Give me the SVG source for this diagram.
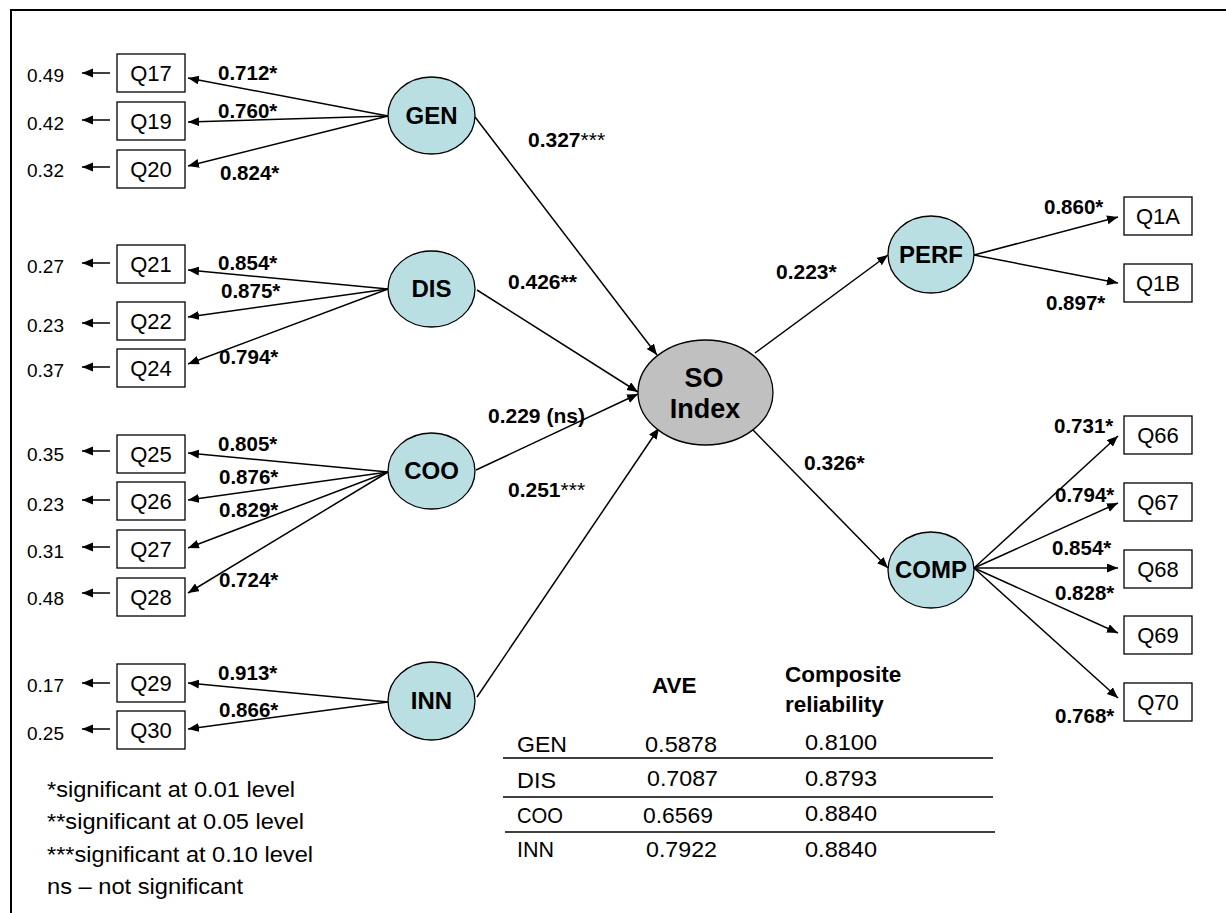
<svg xmlns="http://www.w3.org/2000/svg" width="1226" height="913" viewBox="0 0 1226 913">
<defs>
<marker id="ah" markerUnits="userSpaceOnUse" markerWidth="12" markerHeight="10" refX="11" refY="4.5" orient="auto">
<path d="M0,0 L11,4.5 L0,9 z" fill="#000"/>
</marker>
<style>
text{font-family:"Liberation Sans",Arial,sans-serif;fill:#000}
.lat{fill:#b9dfe2;stroke:#000;stroke-width:1.3}
.so{fill:#c0c0c0;stroke:#000;stroke-width:1.3}
.box{fill:#fff;stroke:#000;stroke-width:1.3}
.nl{font-size:24px;font-weight:bold;text-anchor:middle}
.bt{font-size:22px;text-anchor:middle}
.er{font-size:19px}
.ld{font-size:20.5px;font-weight:bold}
.pc{font-size:21px;font-weight:bold}
.tb{font-size:22px}
.th{font-size:22.5px;font-weight:bold}
.lg{font-size:22px}
.c line{stroke:#000;stroke-width:1.5;marker-end:url(#ah)}
.tl{stroke:#000;stroke-width:1.5}
</style>
</defs>
<rect x="11" y="10" width="1300" height="1000" fill="#fff" stroke="#000" stroke-width="2"/>

<g id="connectors" class="c">
<line x1="110" y1="73" x2="82" y2="73"/>
<line x1="110" y1="120" x2="82" y2="120"/>
<line x1="110" y1="167" x2="82" y2="167"/>
<line x1="110" y1="263" x2="82" y2="263"/>
<line x1="110" y1="323" x2="82" y2="323"/>
<line x1="110" y1="367" x2="82" y2="367"/>
<line x1="110" y1="451" x2="82" y2="451"/>
<line x1="110" y1="500" x2="82" y2="500"/>
<line x1="110" y1="547" x2="82" y2="547"/>
<line x1="110" y1="593" x2="82" y2="593"/>
<line x1="110" y1="683" x2="82" y2="683"/>
<line x1="110" y1="729" x2="82" y2="729"/>
<line x1="388" y1="116" x2="188" y2="78"/>
<line x1="388" y1="116" x2="188" y2="122"/>
<line x1="388" y1="116" x2="188" y2="166"/>
<line x1="388" y1="289" x2="188" y2="270"/>
<line x1="388" y1="289" x2="188" y2="317"/>
<line x1="388" y1="289" x2="188" y2="364"/>
<line x1="388" y1="472" x2="188" y2="453"/>
<line x1="388" y1="472" x2="188" y2="500"/>
<line x1="388" y1="472" x2="188" y2="548"/>
<line x1="388" y1="472" x2="188" y2="593"/>
<line x1="388" y1="702" x2="188" y2="683"/>
<line x1="388" y1="702" x2="188" y2="729"/>
<line x1="475" y1="117" x2="657" y2="355"/>
<line x1="477" y1="290" x2="638" y2="392"/>
<line x1="476" y1="470" x2="638" y2="394"/>
<line x1="477" y1="697" x2="659" y2="428"/>
<line x1="755" y1="353" x2="888" y2="255"/>
<line x1="753" y1="430" x2="888" y2="568"/>
<line x1="974" y1="255" x2="1118" y2="217"/>
<line x1="974" y1="255" x2="1118" y2="283"/>
<line x1="974" y1="568" x2="1118" y2="436"/>
<line x1="974" y1="568" x2="1118" y2="503"/>
<line x1="974" y1="568" x2="1118" y2="568"/>
<line x1="974" y1="568" x2="1118" y2="633"/>
<line x1="974" y1="568" x2="1118" y2="698"/>
</g>

<g id="gen"><ellipse class="lat" cx="431.5" cy="115.5" rx="43.5" ry="38.5"/><text class="nl" x="431.5" y="124">GEN</text></g>
<g id="dis"><ellipse class="lat" cx="431.5" cy="289" rx="43.5" ry="38"/><text class="nl" x="431.5" y="297">DIS</text></g>
<g id="coo"><ellipse class="lat" cx="431.5" cy="471" rx="43.5" ry="38"/><text class="nl" x="431.5" y="479">COO</text></g>
<g id="inn"><ellipse class="lat" cx="431.5" cy="701" rx="43.5" ry="39"/><text class="nl" x="431.5" y="709">INN</text></g>
<g id="so"><ellipse class="so" cx="705.5" cy="392.5" rx="67.5" ry="52.5"/><text class="nl" style="font-size:27px" x="704" y="387">SO</text><text class="nl" style="font-size:27px" x="705" y="418">Index</text></g>
<g id="perf"><ellipse class="lat" cx="931" cy="254.5" rx="43" ry="38.5"/><text class="nl" x="931" y="263">PERF</text></g>
<g id="comp"><ellipse class="lat" cx="931" cy="570" rx="43" ry="38"/><text class="nl" x="931" y="578">COMP</text></g>

<g id="q17"><rect class="box" x="117" y="54" width="68" height="38"/><text class="bt" x="151" y="81">Q17</text></g>
<g id="q19"><rect class="box" x="117" y="102" width="68" height="38"/><text class="bt" x="151" y="129">Q19</text></g>
<g id="q20"><rect class="box" x="117" y="150" width="68" height="38"/><text class="bt" x="151" y="177">Q20</text></g>
<g id="q21"><rect class="box" x="117" y="245" width="68" height="38"/><text class="bt" x="151" y="272">Q21</text></g>
<g id="q22"><rect class="box" x="117" y="302" width="68" height="38"/><text class="bt" x="151" y="329">Q22</text></g>
<g id="q24"><rect class="box" x="117" y="349" width="68" height="38"/><text class="bt" x="151" y="376">Q24</text></g>
<g id="q25"><rect class="box" x="117" y="435" width="68" height="38"/><text class="bt" x="151" y="462">Q25</text></g>
<g id="q26"><rect class="box" x="117" y="482" width="68" height="38"/><text class="bt" x="151" y="509">Q26</text></g>
<g id="q27"><rect class="box" x="117" y="530" width="68" height="38"/><text class="bt" x="151" y="557">Q27</text></g>
<g id="q28"><rect class="box" x="117" y="578" width="68" height="38"/><text class="bt" x="151" y="605">Q28</text></g>
<g id="q29"><rect class="box" x="117" y="664" width="68" height="38"/><text class="bt" x="151" y="691">Q29</text></g>
<g id="q30"><rect class="box" x="117" y="711" width="68" height="38"/><text class="bt" x="151" y="738">Q30</text></g>
<g id="q1a"><rect class="box" x="1124" y="197" width="68" height="38"/><text class="bt" x="1158" y="224">Q1A</text></g>
<g id="q1b"><rect class="box" x="1124" y="264" width="68" height="38"/><text class="bt" x="1158" y="291">Q1B</text></g>
<g id="q66"><rect class="box" x="1124" y="416" width="68" height="38"/><text class="bt" x="1158" y="443">Q66</text></g>
<g id="q67"><rect class="box" x="1124" y="483" width="68" height="38"/><text class="bt" x="1158" y="510">Q67</text></g>
<g id="q68"><rect class="box" x="1124" y="550" width="68" height="38"/><text class="bt" x="1158" y="577">Q68</text></g>
<g id="q69"><rect class="box" x="1124" y="616" width="68" height="38"/><text class="bt" x="1158" y="643">Q69</text></g>
<g id="q70"><rect class="box" x="1124" y="683" width="68" height="38"/><text class="bt" x="1158" y="710">Q70</text></g>

<g id="errors">
<text class="er" x="27" y="82">0.49</text>
<text class="er" x="27" y="130">0.42</text>
<text class="er" x="27" y="177">0.32</text>
<text class="er" x="27" y="273">0.27</text>
<text class="er" x="27" y="332">0.23</text>
<text class="er" x="27" y="377">0.37</text>
<text class="er" x="27" y="461">0.35</text>
<text class="er" x="27" y="511">0.23</text>
<text class="er" x="27" y="558">0.31</text>
<text class="er" x="27" y="605">0.48</text>
<text class="er" x="27" y="692">0.17</text>
<text class="er" x="27" y="740">0.25</text>
</g>

<g id="loadings">
<text class="ld" x="218" y="80">0.712*</text>
<text class="ld" x="218" y="118">0.760*</text>
<text class="ld" x="220" y="180">0.824*</text>
<text class="ld" x="218" y="270">0.854*</text>
<text class="ld" x="221" y="298">0.875*</text>
<text class="ld" x="219" y="364">0.794*</text>
<text class="ld" x="218" y="451">0.805*</text>
<text class="ld" x="219" y="484">0.876*</text>
<text class="ld" x="219" y="517">0.829*</text>
<text class="ld" x="219" y="587">0.724*</text>
<text class="ld" x="218" y="680">0.913*</text>
<text class="ld" x="219" y="717">0.866*</text>
<text class="ld" x="1044" y="214">0.860*</text>
<text class="ld" x="1046" y="310">0.897*</text>
<text class="ld" x="1054" y="433">0.731*</text>
<text class="ld" x="1055" y="502">0.794*</text>
<text class="ld" x="1052" y="555">0.854*</text>
<text class="ld" x="1055" y="600">0.828*</text>
<text class="ld" x="1055" y="723">0.768*</text>
</g>

<g id="paths">
<text class="pc" x="528" y="147">0.327<tspan font-weight="normal">***</tspan></text>
<text class="pc" x="508" y="289">0.426**</text>
<text class="pc" x="488" y="423">0.229 (ns)</text>
<text class="pc" x="508" y="497">0.251<tspan font-weight="normal">***</tspan></text>
<text class="pc" x="776" y="279">0.223*</text>
<text class="pc" x="804" y="470">0.326*</text>
</g>

<g id="table">
<text class="th" x="652" y="693">AVE</text>
<text class="th" x="785" y="682">Composite</text>
<text class="th" x="785" y="712">reliability</text>
<text class="tb" x="517" y="752" textLength="50" lengthAdjust="spacingAndGlyphs">GEN</text>
<text class="tb" x="645" y="752" textLength="72" lengthAdjust="spacingAndGlyphs">0.5878</text>
<text class="tb" x="805" y="750" textLength="72" lengthAdjust="spacingAndGlyphs">0.8100</text>
<line class="tl" x1="503" y1="758" x2="993" y2="758"/>
<text class="tb" x="517" y="788" textLength="39" lengthAdjust="spacingAndGlyphs">DIS</text>
<text class="tb" x="647" y="786" textLength="71" lengthAdjust="spacingAndGlyphs">0.7087</text>
<text class="tb" x="805" y="786" textLength="72" lengthAdjust="spacingAndGlyphs">0.8793</text>
<line class="tl" x1="503" y1="797" x2="993" y2="797"/>
<text class="tb" x="517" y="823" textLength="46" lengthAdjust="spacingAndGlyphs">COO</text>
<text class="tb" x="643" y="823" textLength="70" lengthAdjust="spacingAndGlyphs">0.6569</text>
<text class="tb" x="805" y="821" textLength="72" lengthAdjust="spacingAndGlyphs">0.8840</text>
<line class="tl" x1="505" y1="832" x2="995" y2="832"/>
<text class="tb" x="517" y="857" textLength="37" lengthAdjust="spacingAndGlyphs">INN</text>
<text class="tb" x="646" y="857" textLength="71" lengthAdjust="spacingAndGlyphs">0.7922</text>
<text class="tb" x="805" y="857" textLength="72" lengthAdjust="spacingAndGlyphs">0.8840</text>
</g>

<g id="legend">
<text class="lg" x="47" y="797" textLength="248" lengthAdjust="spacingAndGlyphs">*significant at 0.01 level</text>
<text class="lg" x="47" y="829" textLength="257" lengthAdjust="spacingAndGlyphs">**significant at 0.05 level</text>
<text class="lg" x="47" y="862" textLength="266" lengthAdjust="spacingAndGlyphs">***significant at 0.10 level</text>
<text class="lg" x="47" y="894" textLength="196" lengthAdjust="spacingAndGlyphs">ns – not significant</text>
</g>
</svg>
